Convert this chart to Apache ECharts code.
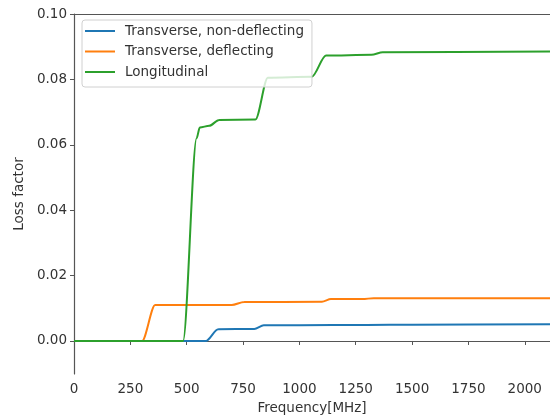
<!DOCTYPE html>
<html>
<head>
<meta charset="utf-8">
<script src="https://cdn.jsdelivr.net/npm/echarts@6/dist/echarts.min.js"></script>
<style>
  html, body { margin: 0; padding: 0; background: #fff; }
  #chart { width: 550px; height: 417px; }
</style>
</head>
<body>
<div id="chart"></div>
<script>
// data: [frequency MHz, loss factor]
var seriesNames = ["Transverse, non-deflecting", "Transverse, deflecting", "Longitudinal"];
var nonDeflecting = [
  [0, 0], [585, 0], [640, 0.0036], [800, 0.0037],
  [842, 0.0048], [1000, 0.0048], [1300, 0.0049], [1500, 0.0050], [2112, 0.0051]
];
var deflecting = [
  [0, 0], [302, 0], [360, 0.011], [700, 0.011],
  [755, 0.0119], [1100, 0.0120], [1140, 0.0128], [1280, 0.0128],
  [1330, 0.0131], [2112, 0.0131]
];
var longitudinal = [
  [0, 0], [484, 0], [544, 0.062], [558, 0.0653],
  [600, 0.0658], [644, 0.0676], [805, 0.0677],
  [860, 0.0805], [1055, 0.0808],
  [1118, 0.0873], [1320, 0.0875], [1370, 0.0883], [2112, 0.0885]
];
var xTicks = [0, 250, 500, 750, 1000, 1250, 1500, 1750, 2000];
var yTicks = [0, 0.02, 0.04, 0.06, 0.08, 0.10];
var colors = ["#1f77b4", "#ff7f0e", "#2ca02c"];

var font = "DejaVu Sans";
var fs = 13.5;
var chart = echarts.init(document.getElementById("chart"));

function makeLine(name, data, color) {
  return {
    name: name,
    type: "line",
    data: data,
    symbol: "none",
    smooth: 0.3,
    smoothMonotone: "x",
    color: color,
    lineStyle: { width: 2, color: color },
    animation: false
  };
}

chart.setOption({
  animation: false,
  grid: { left: 74, top: 14, right: 0, bottom: 43, outerBoundsMode: "none", containLabel: false },
  legend: {
    orient: "vertical",
    left: 82,
    top: 20,
    padding: [4, 8, 8, 3],
    icon: "rect",
    itemWidth: 30,
    itemHeight: 2,
    itemGap: 6.5,
    backgroundColor: "rgba(255,255,255,0.8)",
    borderColor: "#d0d0d0",
    borderWidth: 1,
    borderRadius: 3,
    textStyle: { fontFamily: font, fontSize: fs, color: "#333", padding: [0, 0, 0, 5] },
    data: seriesNames
  },
  xAxis: [
    {
      type: "value",
      min: 0,
      max: 2112,
      name: "Frequency[MHz]",
      nameLocation: "middle",
      nameGap: 27,
      nameTextStyle: { fontFamily: font, fontSize: fs, color: "#333" },
      splitLine: { show: false },
      axisLine: { lineStyle: { color: "#555", width: 1.2 } },
      axisTick: { show: true, length: 4, customValues: xTicks, lineStyle: { color: "#555" } },
      axisLabel: {
        customValues: xTicks,
        fontFamily: font,
        fontSize: fs,
        color: "#333",
        margin: 8,
        formatter: function (v) { return String(v); }
      }
    },
    {
      type: "value",
      position: "top",
      min: 0,
      max: 2112,
      axisLine: { show: true, lineStyle: { color: "#555", width: 1.2 } },
      axisTick: { show: false },
      axisLabel: { show: false },
      splitLine: { show: false }
    }
  ],
  yAxis: {
    type: "value",
    min: -0.0101,
    max: 0.1,
    name: "Loss factor",
    nameLocation: "middle",
    nameGap: 44,
    nameTextStyle: { fontFamily: font, fontSize: fs, color: "#333" },
    splitLine: { show: false },
    axisLine: { show: true, lineStyle: { color: "#555", width: 1.2 } },
    axisTick: { show: true, length: 4, customValues: yTicks, lineStyle: { color: "#555" } },
    axisLabel: {
      customValues: yTicks,
      fontFamily: font,
      fontSize: fs,
      color: "#333",
      margin: 7,
      formatter: function (v) { return v.toFixed(2); }
    }
  },
  series: [
    makeLine(seriesNames[0], nonDeflecting, colors[0]),
    makeLine(seriesNames[1], deflecting, colors[1]),
    makeLine(seriesNames[2], longitudinal, colors[2])
  ]
});
</script>
</body>
</html>
